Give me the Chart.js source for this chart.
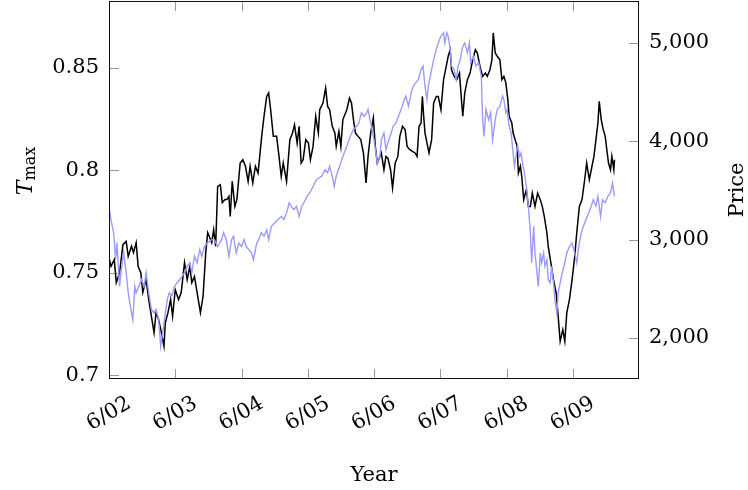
<!DOCTYPE html>
<html>
<head>
<meta charset="utf-8">
<script src="https://cdn.jsdelivr.net/npm/chart.js@4.4.1/dist/chart.umd.min.js"></script>
<style>
  html, body { margin: 0; padding: 0; background: #fff; }
  #wrap { width: 748px; height: 490px; }
</style>
</head>
<body>
<div id="wrap"><canvas id="chart" width="748" height="490"></canvas></div>
<script>
// x values are decimal years, 2002.5 = June 2002
const tmaxYears = [
  2002.50, 2002.53, 2002.58, 2002.61, 2002.66, 2002.71, 2002.76, 2002.79, 2002.84, 2002.87,
  2002.91, 2002.94, 2002.98, 2003.01, 2003.06, 2003.10, 2003.14, 2003.18, 2003.21, 2003.25,
  2003.29, 2003.33, 2003.35, 2003.39, 2003.43, 2003.46, 2003.50, 2003.55, 2003.59, 2003.64,
  2003.68, 2003.72, 2003.75, 2003.79, 2003.83, 2003.88, 2003.92, 2003.96, 2003.99, 2004.05,
  2004.08, 2004.11, 2004.14, 2004.18, 2004.21, 2004.25, 2004.28, 2004.31, 2004.33, 2004.36,
  2004.40, 2004.43, 2004.48, 2004.52, 2004.56, 2004.60, 2004.63, 2004.67, 2004.71, 2004.75,
  2004.78, 2004.81, 2004.84, 2004.88, 2004.91, 2004.94, 2004.98, 2005.03, 2005.06, 2005.10,
  2005.13, 2005.18, 2005.23, 2005.27, 2005.30, 2005.34, 2005.37, 2005.40, 2005.43, 2005.47,
  2005.51, 2005.54, 2005.58, 2005.62, 2005.66, 2005.68, 2005.73, 2005.77, 2005.80, 2005.83,
  2005.87, 2005.91, 2005.93, 2005.97, 2006.00, 2006.03, 2006.09, 2006.13, 2006.16, 2006.19,
  2006.22, 2006.26, 2006.30, 2006.34, 2006.38, 2006.41, 2006.45, 2006.49, 2006.52, 2006.55,
  2006.59, 2006.61, 2006.65, 2006.68, 2006.71, 2006.75, 2006.78, 2006.82, 2006.86, 2006.89,
  2006.93, 2006.97, 2007.00, 2007.04, 2007.08, 2007.12, 2007.15, 2007.18, 2007.21, 2007.23,
  2007.25, 2007.27, 2007.30, 2007.33, 2007.37, 2007.40, 2007.44, 2007.47, 2007.51, 2007.55,
  2007.59, 2007.62, 2007.65, 2007.67, 2007.71, 2007.75, 2007.79, 2007.82, 2007.84, 2007.87,
  2007.91, 2007.95, 2007.99, 2008.03, 2008.06, 2008.10, 2008.14, 2008.18, 2008.21, 2008.25,
  2008.28, 2008.30, 2008.33, 2008.36, 2008.40, 2008.43, 2008.46, 2008.49, 2008.52, 2008.54,
  2008.58, 2008.60, 2008.63, 2008.66, 2008.68, 2008.71, 2008.73, 2008.76, 2008.80, 2008.83,
  2008.86, 2008.89, 2008.93, 2008.97, 2009.01, 2009.04, 2009.07, 2009.11, 2009.13, 2009.17,
  2009.21, 2009.25, 2009.28, 2009.31, 2009.35, 2009.38, 2009.41, 2009.45, 2009.49, 2009.53,
  2009.56, 2009.60, 2009.64, 2009.68, 2009.71, 2009.75, 2009.79, 2009.82, 2009.85, 2009.88,
  2009.90, 2009.93, 2009.96, 2009.99, 2010.02, 2010.04, 2010.07, 2010.09, 2010.12, 2010.13
];
const tmaxValues = [
  0.7574, 0.7531, 0.7564, 0.7452, 0.7500, 0.7637, 0.7653, 0.7580, 0.7629, 0.7598,
  0.7647, 0.7531, 0.7500, 0.7403, 0.7466, 0.7369, 0.7287, 0.7207, 0.7305, 0.7271,
  0.7207, 0.7141, 0.7256, 0.7305, 0.7369, 0.7287, 0.7417, 0.7369, 0.7403, 0.7549,
  0.7466, 0.7531, 0.7452, 0.7482, 0.7403, 0.7305, 0.7385, 0.7598, 0.7696, 0.7647,
  0.7710, 0.7629, 0.7922, 0.7930, 0.7842, 0.7857, 0.7857, 0.7873, 0.7775, 0.7946,
  0.7824, 0.7857, 0.8036, 0.8052, 0.8020, 0.7946, 0.8020, 0.7938, 0.8020, 0.7987,
  0.8085, 0.8182, 0.8264, 0.8361, 0.8378, 0.8296, 0.8166, 0.8166, 0.8085, 0.7970,
  0.8036, 0.7946, 0.8150, 0.8182, 0.8223, 0.8133, 0.8215, 0.8036, 0.8052, 0.8150,
  0.8133, 0.8052, 0.8117, 0.8264, 0.8182, 0.8296, 0.8329, 0.8402, 0.8312, 0.8296,
  0.8215, 0.8182, 0.8117, 0.8190, 0.8117, 0.8248, 0.8296, 0.8353, 0.8329, 0.8248,
  0.8182, 0.8166, 0.8150, 0.8085, 0.7938, 0.8068, 0.8182, 0.8256, 0.8117, 0.8036,
  0.8068, 0.8085, 0.8003, 0.8068, 0.8060, 0.8003, 0.7914, 0.8036, 0.8068, 0.8166,
  0.8215, 0.8199, 0.8117, 0.8101, 0.8093, 0.8085, 0.8068, 0.8215, 0.8231, 0.8361,
  0.8264, 0.8182, 0.8133, 0.8085, 0.8150, 0.8329, 0.8361, 0.8361, 0.8296, 0.8443,
  0.8508, 0.8557, 0.8589, 0.8491, 0.8459, 0.8443, 0.8475, 0.8345, 0.8264, 0.8378,
  0.8443, 0.8475, 0.8540, 0.8589, 0.8573, 0.8508, 0.8459, 0.8475, 0.8459, 0.8491,
  0.8540, 0.8671, 0.8573, 0.8557, 0.8540, 0.8443, 0.8459, 0.8427, 0.8345, 0.8264,
  0.8231, 0.8182, 0.8150, 0.8117, 0.7987, 0.8020, 0.7970, 0.7857, 0.7906, 0.7824,
  0.7824, 0.7889, 0.7824, 0.7889, 0.7857, 0.7824, 0.7775, 0.7694, 0.7629, 0.7548,
  0.7466, 0.7401, 0.7287, 0.7165, 0.7222, 0.7165, 0.7304, 0.7369, 0.7466, 0.7580,
  0.7694, 0.7824, 0.7857, 0.7954, 0.8036, 0.7954, 0.8020, 0.8068, 0.8150, 0.8231,
  0.8337, 0.8248, 0.8199, 0.8166, 0.8085, 0.8036, 0.8003, 0.8068, 0.8003, 0.8052
];

const priceYears = [
  2002.50, 2002.53, 2002.57, 2002.60, 2002.62, 2002.66, 2002.68, 2002.72, 2002.76, 2002.79,
  2002.83, 2002.86, 2002.89, 2002.91, 2002.95, 2002.99, 2003.03, 2003.06, 2003.10, 2003.14,
  2003.18, 2003.21, 2003.25, 2003.28, 2003.31, 2003.35, 2003.38, 2003.41, 2003.45, 2003.49,
  2003.53, 2003.57, 2003.60, 2003.64, 2003.68, 2003.72, 2003.75, 2003.79, 2003.83, 2003.87,
  2003.90, 2003.94, 2003.99, 2004.05, 2004.09, 2004.14, 2004.20, 2004.23, 2004.27, 2004.31,
  2004.35, 2004.38, 2004.42, 2004.46, 2004.50, 2004.54, 2004.57, 2004.61, 2004.65, 2004.68,
  2004.73, 2004.76, 2004.80, 2004.84, 2004.88, 2004.91, 2004.95, 2005.00, 2005.05, 2005.10,
  2005.14, 2005.18, 2005.22, 2005.25, 2005.29, 2005.33, 2005.37, 2005.41, 2005.44, 2005.49,
  2005.53, 2005.58, 2005.63, 2005.71, 2005.76, 2005.80, 2005.83, 2005.87, 2005.90, 2005.93,
  2005.98, 2006.03, 2006.09, 2006.14, 2006.19, 2006.24, 2006.27, 2006.31, 2006.35, 2006.39,
  2006.41, 2006.44, 2006.47, 2006.50, 2006.53, 2006.55, 2006.59, 2006.61, 2006.65, 2006.68,
  2006.71, 2006.76, 2006.79, 2006.83, 2006.87, 2006.91, 2006.94, 2006.98, 2007.02, 2007.06,
  2007.09, 2007.13, 2007.17, 2007.21, 2007.24, 2007.27, 2007.30, 2007.32, 2007.36, 2007.40,
  2007.44, 2007.47, 2007.51, 2007.55, 2007.57, 2007.60, 2007.62, 2007.65, 2007.67, 2007.71,
  2007.74, 2007.77, 2007.80, 2007.84, 2007.87, 2007.91, 2007.94, 2007.96, 2008.00, 2008.04,
  2008.08, 2008.12, 2008.14, 2008.16, 2008.19, 2008.23, 2008.26, 2008.29, 2008.33, 2008.36,
  2008.40, 2008.44, 2008.46, 2008.49, 2008.51, 2008.54, 2008.57, 2008.60, 2008.62, 2008.65,
  2008.67, 2008.70, 2008.72, 2008.75, 2008.77, 2008.80, 2008.83, 2008.86, 2008.88, 2008.91,
  2008.93, 2008.96, 2008.98, 2009.01, 2009.03, 2009.06, 2009.08, 2009.11, 2009.13, 2009.16,
  2009.18, 2009.21, 2009.23, 2009.26, 2009.28, 2009.31, 2009.34, 2009.38, 2009.41, 2009.45,
  2009.49, 2009.53, 2009.56, 2009.59, 2009.63, 2009.66, 2009.70, 2009.74, 2009.78, 2009.81,
  2009.85, 2009.88, 2009.92, 2009.95, 2009.99, 2010.03, 2010.07, 2010.10, 2010.13
];
const priceValues = [
  3340, 3200, 3070, 2800, 2970, 2525, 2665, 2870, 2665, 2460,
  2290, 2185, 2525, 2460, 2525, 2595, 2525, 2665, 2460, 2290,
  2255, 2290, 2185, 1915, 2055, 2255, 2390, 2460, 2430, 2525,
  2565, 2595, 2625, 2665, 2730, 2765, 2665, 2830, 2765, 2900,
  2830, 2930, 2970, 3000, 3000, 2930, 3000, 3070, 3000, 2830,
  3000, 3035, 2865, 2965, 2930, 3000, 2930, 2900, 2865, 2795,
  2965, 3000, 3070, 3035, 3100, 3000, 3135, 3170, 3205, 3235,
  3205, 3270, 3375, 3340, 3305, 3340, 3235, 3340, 3375, 3440,
  3475, 3540, 3610, 3645, 3710, 3680, 3745, 3645, 3540, 3645,
  3745, 3845, 3950, 4050, 4120, 4155, 4185, 4290, 4255, 4290,
  4325, 4220, 4120, 4015, 3880, 3780, 3845, 4015, 4085, 3915,
  3985, 4085, 4155, 4185, 4255, 4325, 4390, 4460, 4355, 4490,
  4560, 4595, 4630, 4730, 4765, 4560, 4425, 4560, 4695, 4830,
  4935, 5000, 5070, 5105, 5000, 5105, 5070, 4935, 4765, 4730,
  4630, 4765, 4830, 4965, 5000, 4900, 5000, 4800, 4865, 4765,
  4800, 4660, 4220, 4050, 4325, 4220, 4290, 4015, 4220, 4325,
  4355, 4460, 4425, 4290, 4325, 4155, 4085, 3880, 3745, 3880,
  3950, 3845, 3880, 3745, 3680, 3540, 3340, 3070, 2765, 3135,
  2865, 2660, 2525, 2865, 2765, 2865, 2730, 2795, 2595, 2560,
  2730, 2560, 2390, 2255, 2460, 2560, 2660, 2765, 2865, 2930,
  2965, 2865, 2765, 2930, 3070, 3135, 3205, 3270, 3340, 3405,
  3340, 3440, 3235, 3405, 3375, 3440, 3475, 3575, 3440
];

const xTickYears = [2002.5, 2003.5, 2004.5, 2005.5, 2006.5, 2007.5, 2008.5, 2009.5];
const xTickLabels = ['6/02', '6/03', '6/04', '6/05', '6/06', '6/07', '6/08', '6/09'];
const tmaxTicks = [0.7, 0.75, 0.8, 0.85];
const priceTicks = [2000, 3000, 4000, 5000];

const FONT = '"DejaVu Serif", "Liberation Serif", serif';
const BLUE = 'rgb(155,155,255)';

// frame, inward tick marks, rotated x labels and axis titles (pgfplots look)
const decorations = {
  id: 'decorations',
  beforeDatasetsDraw(chart) {
    const { ctx, chartArea: a, scales } = chart;
    ctx.save();
    ctx.strokeStyle = '#999';
    ctx.lineWidth = 1;
    ctx.beginPath();
    xTickYears.forEach(v => {
      const x = Math.round(scales.x.getPixelForValue(v)) + 0.5;
      ctx.moveTo(x, a.top); ctx.lineTo(x, a.top + 10);
      ctx.moveTo(x, a.bottom); ctx.lineTo(x, a.bottom - 10);
    });
    tmaxTicks.forEach(v => {
      const y = Math.round(scales.tmax.getPixelForValue(v)) + 0.5;
      ctx.moveTo(a.left, y); ctx.lineTo(a.left + 10, y);
    });
    priceTicks.forEach(v => {
      const y = Math.round(scales.price.getPixelForValue(v)) + 0.5;
      ctx.moveTo(a.right, y); ctx.lineTo(a.right - 10, y);
    });
    ctx.stroke();
    ctx.restore();
  },
  afterDraw(chart) {
    const { ctx, chartArea: a, scales } = chart;
    ctx.save();
    ctx.strokeStyle = '#111';
    ctx.lineWidth = 1;
    ctx.strokeRect(Math.round(a.left) + 0.5, Math.round(a.top) + 0.5,
      Math.round(a.right - a.left) - 1, Math.round(a.bottom - a.top) - 1);

    ctx.fillStyle = '#000';
    ctx.font = `21px ${FONT}`;
    ctx.textAlign = 'center';
    ctx.textBaseline = 'middle';
    xTickYears.forEach((v, i) => {
      const x = scales.x.getPixelForValue(v);
      ctx.save();
      ctx.translate(x, 414);
      ctx.rotate(-Math.PI / 6);
      ctx.fillText(xTickLabels[i], 0, 0);
      ctx.restore();
    });

    ctx.textBaseline = 'alphabetic';
    ctx.fillText('Year', (a.left + a.right) / 2, 481);

    ctx.save();
    ctx.translate(743, 190);
    ctx.rotate(-Math.PI / 2);
    ctx.fillText('Price', 0, 0);
    ctx.restore();

    // T_max
    ctx.save();
    ctx.translate(32, 171);
    ctx.rotate(-Math.PI / 2);
    ctx.textAlign = 'left';
    const tFont = `italic 22px ${FONT}`;
    const sFont = `16px ${FONT}`;
    ctx.font = tFont;
    const tw = ctx.measureText('T').width;
    ctx.font = sFont;
    const sw = ctx.measureText('max').width;
    const start = -(tw + sw) / 2;
    ctx.font = tFont;
    ctx.fillText('T', start, 0);
    ctx.font = sFont;
    ctx.fillText('max', start + tw, 3);
    ctx.restore();

    ctx.restore();
  }
};

const noPad = s => { s.paddingTop = 0; s.paddingBottom = 0; s.paddingLeft = 0; s.paddingRight = 0; };

const ctx = document.getElementById('chart').getContext('2d');
new Chart(ctx, {
  type: 'line',
  data: {
    datasets: [
      {
        label: 'Price',
        data: priceYears.map((x, i) => ({ x, y: priceValues[i] })),
        yAxisID: 'price',
        borderColor: BLUE,
        borderWidth: 1.4,
        pointRadius: 0,
        tension: 0,
      },
      {
        label: 'Tmax',
        data: tmaxYears.map((x, i) => ({ x, y: tmaxValues[i] })),
        yAxisID: 'tmax',
        borderColor: '#000',
        borderWidth: 1.5,
        pointRadius: 0,
        tension: 0,
      },
    ],
  },
  options: {
    responsive: false,
    animation: false,
    devicePixelRatio: 1,
    layout: { padding: { top: 1, left: 0, right: 0, bottom: 0 } },
    plugins: { legend: { display: false }, tooltip: { enabled: false } },
    scales: {
      x: {
        type: 'linear',
        min: 2002.5,
        max: 2010.5,
        grid: { display: false, drawTicks: false },
        border: { display: false },
        ticks: { display: false },
        afterBuildTicks: s => { s.ticks = xTickYears.map(v => ({ value: v })); },
        afterFit: s => { s.height = 111; noPad(s); },
      },
      tmax: {
        position: 'left',
        min: 0.6981,
        max: 0.8827,
        grid: { display: false, drawTicks: false },
        border: { display: false },
        ticks: { color: '#000', padding: 10, font: { family: FONT, size: 21 }, callback: v => String(v) },
        afterBuildTicks: s => { s.ticks = tmaxTicks.map(v => ({ value: v })); },
        afterFit: s => { s.width = 109; noPad(s); },
      },
      price: {
        position: 'right',
        min: 1583,
        max: 5427,
        grid: { display: false, drawTicks: false },
        border: { display: false },
        ticks: { color: '#000', padding: 10, font: { family: FONT, size: 21 }, callback: v => v.toLocaleString('en-US') },
        afterBuildTicks: s => { s.ticks = priceTicks.map(v => ({ value: v })); },
        afterFit: s => { s.width = 109; noPad(s); },
      },
    },
  },
  plugins: [decorations],
});
</script>
</body>
</html>
